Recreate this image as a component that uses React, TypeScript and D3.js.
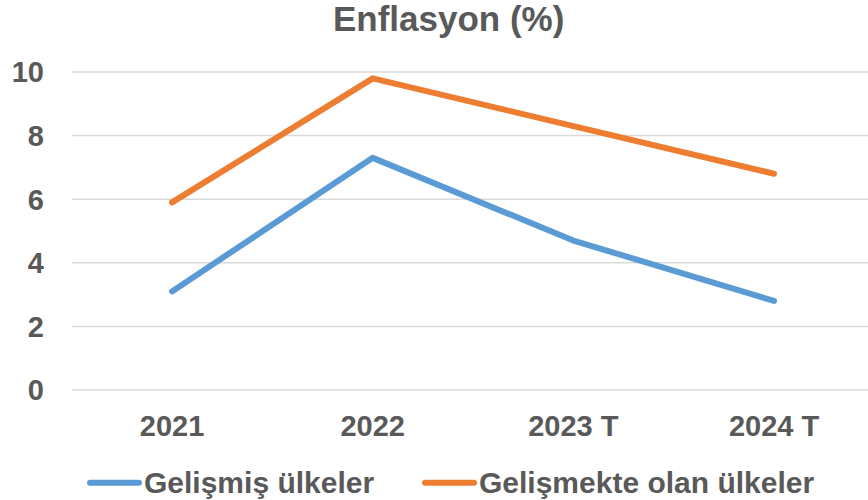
import React from "react";
import * as d3 from "d3";

const categories = ["2021", "2022", "2023 T", "2024 T"];
const developed = [3.1, 7.3, 4.7, 2.8];
const developing = [5.9, 9.8, 8.3, 6.8];
const yTicks = [0, 2, 4, 6, 8, 10];
const seriesNames = ["Gelişmiş ülkeler", "Gelişmekte olan ülkeler"];
const seriesColors = ["#5B9BD5", "#ED7D31"];

const W = 868;
const H = 500;
const FONT = "'Liberation Sans', Arial, sans-serif";
const TEXT = "#595959";

export default function App() {
  const x = d3.scaleBand().domain(categories).range([71.7, 874.4]);
  const y = d3.scaleLinear().domain([0, 10]).range([390, 72]);
  const cx = (c: string) => (x(c) as number) + x.bandwidth() / 2;
  const line = d3
    .line<number>()
    .x((_, i) => cx(categories[i]))
    .y((d) => y(d));
  const series = [developed, developing];
  const legendX = [87, 422];

  return (
    <svg
      width={W}
      height={H}
      style={{ position: "absolute", left: 0, top: 0, display: "block" }}
      fontFamily={FONT}
    >
      <rect width={W} height={H} fill="#fff" />
      <text
        x={448.7}
        y={30.5}
        textAnchor="middle"
        fontSize={35}
        fontWeight="bold"
        fill={TEXT}
      >
        Enflasyon (%)
      </text>
      {yTicks.map((t) => (
        <g key={t}>
          <line
            x1={71.7}
            x2={W}
            y1={y(t)}
            y2={y(t)}
            stroke="#D9D9D9"
            strokeWidth={1.5}
          />
          <text
            x={44}
            y={y(t)}
            dy="0.36em"
            textAnchor="end"
            fontSize={29}
            fontWeight="bold"
            fill={TEXT}
          >
            {t}
          </text>
        </g>
      ))}
      {categories.map((c) => (
        <text
          key={c}
          x={cx(c)}
          y={436}
          textAnchor="middle"
          fontSize={29}
          fontWeight="bold"
          fill={TEXT}
        >
          {c}
        </text>
      ))}
      {series.map((s, i) => (
        <path
          key={i}
          d={line(s) as string}
          fill="none"
          stroke={seriesColors[i]}
          strokeWidth={6}
          strokeLinecap="round"
          strokeLinejoin="round"
        />
      ))}
      {seriesNames.map((n, i) => (
        <g key={n}>
          <line
            x1={legendX[i] + 3}
            x2={legendX[i] + 52}
            y1={482.7}
            y2={482.7}
            stroke={seriesColors[i]}
            strokeWidth={6}
            strokeLinecap="round"
          />
          <text
            x={legendX[i] + 57}
            y={493.3}
            fontSize={30}
            fontWeight="bold"
            fill={TEXT}
          >
            {n}
          </text>
        </g>
      ))}
    </svg>
  );
}
